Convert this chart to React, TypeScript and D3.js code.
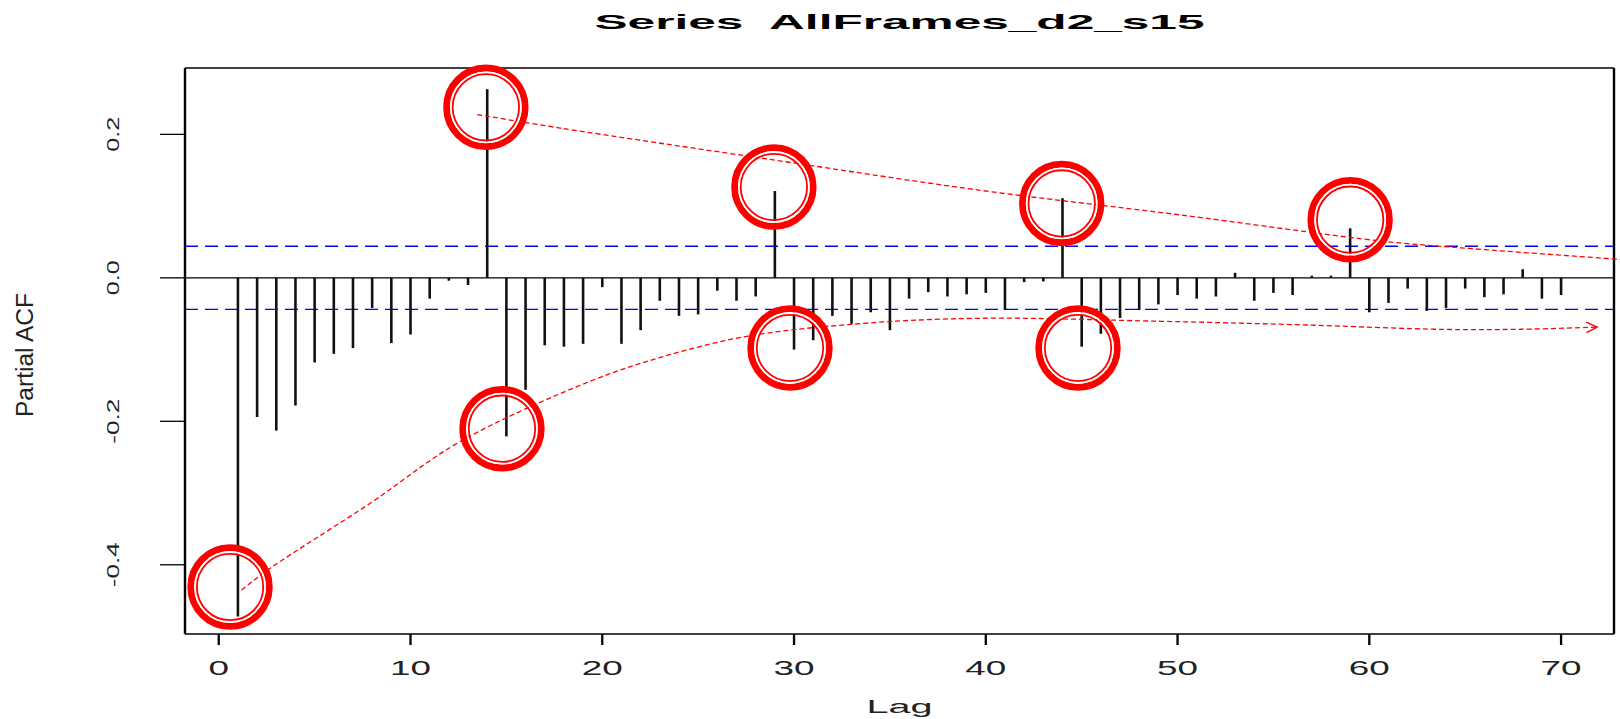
import React from "react";
import * as d3 from "d3";

const title = "Series  AllFrames_d2_s15";
const xLabel = "Lag";
const yLabel = "Partial ACF";
const pacfValues = [
  -0.472, -0.194, -0.213, -0.178, -0.118, -0.106, -0.098, -0.042, -0.091, -0.079,
  -0.029, -0.004, -0.01, 0.263, -0.221, -0.156, -0.094, -0.096, -0.092, -0.013,
  -0.092, -0.073, -0.032, -0.053, -0.051, -0.018, -0.032, -0.026, 0.121, -0.1,
  -0.087, -0.053, -0.064, -0.048, -0.073, -0.029, -0.02, -0.026, -0.023, -0.021,
  -0.045, -0.006, -0.005, 0.111, -0.096, -0.078, -0.056, -0.045, -0.037, -0.024,
  -0.029, -0.026, 0.007, -0.032, -0.021, -0.024, 0.003, 0.003, 0.069, -0.048,
  -0.035, -0.015, -0.046, -0.042, -0.015, -0.027, -0.023, 0.012, -0.029, -0.024,
];
const ciBound = 0.044;
const xTicks = [0, 10, 20, 30, 40, 50, 60, 70];
const yTicks = [-0.4, -0.2, 0.0, 0.2];
const yTickLabels = ["-0.4", "-0.2", "0.0", "0.2"];
const xDomain = [-1.76, 72.76];
const yDomain = [-0.4965, 0.2925];

// annotation circles (lag, value)
const circleLags = [0.59, 13.93, 14.77, 28.95, 29.79, 43.96, 44.81, 59.0];
const circleValues = [-0.431, 0.2377, -0.2103, 0.1266, -0.0978, 0.1037, -0.0978, 0.081];

// upper red dashed trend
const upperLags = [13.48, 17.8, 28.76, 39.72, 50.17, 60.61, 64.78, 73.13];
const upperValues = [0.2276, 0.2088, 0.165, 0.122, 0.0876, 0.0513, 0.0418, 0.0256];

// lower red dashed trend (ends with arrow)
const lowerLags = [1.19, 2.66, 7.88, 12.58, 19.37, 23.02, 27.55, 33.46, 39.72, 49.12, 56.43, 63.89, 67.91, 71.88];
const lowerValues = [-0.4351, -0.4053, -0.3145, -0.2284, -0.1442, -0.111, -0.0815, -0.0638, -0.0564, -0.0606, -0.0655, -0.0719, -0.0717, -0.0687];

export default function App() {
  const W = 1620;
  const H = 719;
  const left = 185, right = 1614, top = 68, bottom = 634;
  const x = d3.scaleLinear().domain(xDomain).range([left, right]);
  const y = d3.scaleLinear().domain(yDomain).range([bottom, top]);
  const font = "'Liberation Sans', Arial, Helvetica, sans-serif";

  const line = d3
    .line<[number, number]>()
    .x((d) => x(d[0]))
    .y((d) => y(d[1]))
    .curve(d3.curveCatmullRom.alpha(0.5));

  const upperPts: [number, number][] = upperLags.map((l, i) => [l, upperValues[i]]);
  const lowerPts: [number, number][] = lowerLags.map((l, i) => [l, lowerValues[i]]);

  const n = lowerPts.length;
  const tipX = x(lowerPts[n - 1][0]);
  const tipY = y(lowerPts[n - 1][1]);
  const prevX = x(lowerPts[n - 2][0]);
  const prevY = y(lowerPts[n - 2][1]);
  const ang = Math.atan2(tipY - prevY, tipX - prevX);
  const ah = 12;
  const a1 = ang + Math.PI - 0.45;
  const a2 = ang + Math.PI + 0.45;
  const arrowPath = `M${tipX + ah * Math.cos(a1)},${tipY + ah * Math.sin(a1)} L${tipX},${tipY} L${tipX + ah * Math.cos(a2)},${tipY + ah * Math.sin(a2)}`;

  const cx = (left + right) / 2;

  return (
    <svg
      width={W}
      height={H}
      style={{ position: "absolute", left: 0, top: 0, background: "#fff" }}
      fontFamily={font}
    >
      <rect x={0} y={0} width={W} height={H} fill="#fff" />
      <text
        x={cx}
        y={29}
        textAnchor="middle"
        fontWeight="bold"
        fontSize={21}
        textLength={610}
        lengthAdjust="spacingAndGlyphs"
        fill="#000"
        style={{ whiteSpace: "pre" }}
      >
        {title}
      </text>

      {[ciBound, -ciBound].map((v, i) => (
        <line
          key={"ci" + i}
          x1={left}
          x2={right}
          y1={y(v)}
          y2={y(v)}
          stroke="#0000ff"
          strokeWidth={1.3}
          strokeDasharray="13,7"
        />
      ))}
      <line x1={left} x2={right} y1={y(0)} y2={y(0)} stroke="#000" strokeWidth={1.3} />

      {pacfValues.map((v, i) => (
        <line
          key={"b" + i}
          x1={x(i + 1)}
          x2={x(i + 1)}
          y1={y(0)}
          y2={y(v)}
          stroke="#111"
          strokeWidth={2.6}
        />
      ))}

      <line x1={left} x2={right} y1={top} y2={top} stroke="#000" strokeWidth={1.4} />
      <line x1={left} x2={right} y1={bottom} y2={bottom} stroke="#000" strokeWidth={1.4} />
      <line x1={left} x2={left} y1={top} y2={bottom} stroke="#000" strokeWidth={2.4} />
      <line x1={right} x2={right} y1={top} y2={bottom} stroke="#000" strokeWidth={2.4} />

      {xTicks.map((t) => (
        <g key={"xt" + t}>
          <line x1={x(t)} x2={x(t)} y1={bottom} y2={bottom + 11} stroke="#000" strokeWidth={2.3} />
          <text
            x={x(t)}
            y={675}
            textAnchor="middle"
            fontSize={20}
            textLength={String(t).length * 20.5}
            lengthAdjust="spacingAndGlyphs"
            fill="#222"
          >
            {String(t)}
          </text>
        </g>
      ))}
      <text
        x={cx}
        y={713}
        textAnchor="middle"
        fontSize={18}
        textLength={66}
        lengthAdjust="spacingAndGlyphs"
        fill="#222"
      >
        {xLabel}
      </text>

      {yTicks.map((t, i) => (
        <g key={"yt" + i}>
          <line x1={160} x2={left} y1={y(t)} y2={y(t)} stroke="#000" strokeWidth={1.3} />
          <text
            transform={`translate(119,${y(t)}) rotate(-90)`}
            textAnchor="middle"
            fontSize={17}
            textLength={yTickLabels[i].length * 10 + 5}
            lengthAdjust="spacingAndGlyphs"
            fill="#222"
          >
            {yTickLabels[i]}
          </text>
        </g>
      ))}
      <text
        transform={`translate(33,${(top + bottom) / 2 + 4}) rotate(-90)`}
        textAnchor="middle"
        fontSize={23}
        textLength={124}
        lengthAdjust="spacingAndGlyphs"
        fill="#222"
      >
        {yLabel}
      </text>

      <path d={line(upperPts) || ""} fill="none" stroke="#ff0000" strokeWidth={1.3} strokeDasharray="5,3" />
      <path d={line(lowerPts) || ""} fill="none" stroke="#ff0000" strokeWidth={1.3} strokeDasharray="5,3" />
      <path d={arrowPath} fill="none" stroke="#ff0000" strokeWidth={1.4} />

      {circleLags.map((l, i) => (
        <g key={"c" + i}>
          <circle cx={x(l)} cy={y(circleValues[i])} r={39.3} fill="none" stroke="#ff0000" strokeWidth={6.8} />
          <circle cx={x(l)} cy={y(circleValues[i])} r={35} fill="none" stroke="#ffffff" strokeWidth={1.8} />
          <circle cx={x(l)} cy={y(circleValues[i])} r={33.2} fill="none" stroke="#ff0000" strokeWidth={1.8} />
        </g>
      ))}
    </svg>
  );
}
